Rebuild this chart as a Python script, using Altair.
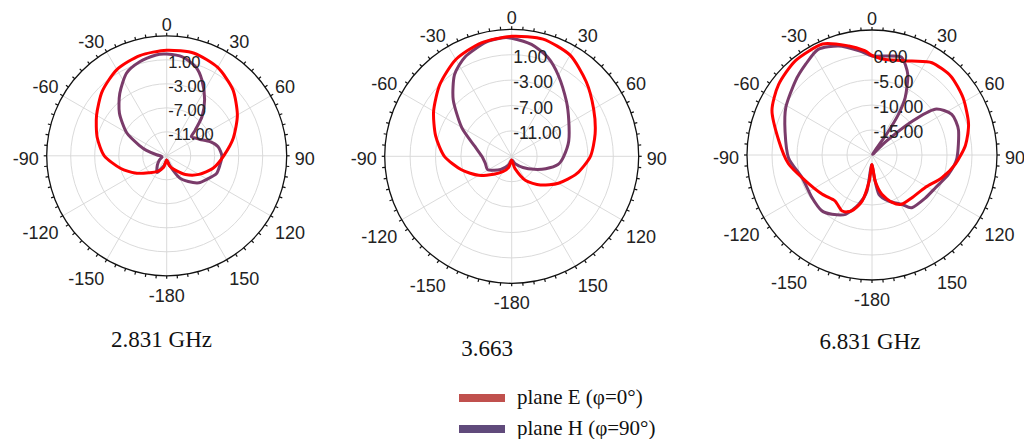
import altair as alt
import pandas as pd
import numpy as np

# ---------------- values ----------------
freq_labels = ["2.831 GHz", "3.663", "6.831 GHz"]
plane_names = ["plane E (φ=0°)", "plane H (φ=90°)"]

ring_db = [[-11, -7, -3, 1], [-11, -7, -3, 1], [-15, -10, -5, 0]]
ring_text = [["-11.00", "-7.00", "-3.00", "1.00"],
             ["-11.00", "-7.00", "-3.00", "1.00"],
             ["-15.00", "-10.00", "-5.00", "0.00"]]
db_lo = [-15, -15, -20]   # gain at the centre of each panel
db_hi = [5, 5, 5]         # gain at the outer circle

angle_ticks = [0, 30, 60, 90, 120, 150, 180, -150, -120, -90, -60, -30]
angle_tick_labels = ["0", "30", "60", "90", "120", "150", "-180",
                     "-150", "-120", "-90", "-60", "-30"]

# panel 1 : 2.831 GHz
e1_ang = [-180, -165, -150, -135, -120, -105, -90, -75, -60, -45, -30, -15,
          0, 15, 30, 45, 60, 75, 90, 105, 120, 135, 150, 165]
e1_db = [-14.3, -13.0, -12.0, -11.0, -9.2, -7.0, -4.6, -3.0, -1.5, 0.2, 1.6, 2.3,
         2.6, 2.7, 2.0, 0.6, -1.4, -3.5, -5.5, -7.0, -8.8, -10.6, -12.3, -13.3]
h1_ang = [-180, -165, -150, -135, -120, -105, -90, -84, -75, -70, -60, -48, -37,
          -26, -16, -6, 0, 9, 18, 25, 34, 42, 48, 52, 58, 64, 72, 80, 90, 100,
          110, 120, 130, 140, 150, 162]
h1_db = [-14.3, -13.3, -11.8, -12.8, -13.6, -14.2, -14.0, -13.3, -11.5, -10.3,
         -7.3, -4.4, -2.0, 0.3, 1.3, 1.9, 1.95, 1.7, 0.6, -1.1, -3.7, -6.2, -8.6,
         -9.8, -9.4, -8.8, -7.4, -6.3, -5.8, -6.0, -6.2, -7.2, -8.0, -9.4, -10.8,
         -13.2]

# panel 2 : 3.663
e2_ang = [-180, -165, -150, -135, -120, -105, -90, -75, -60, -45, -30, -15,
          0, 15, 30, 45, 60, 75, 90, 105, 120, 135, 150, 165]
e2_db = [-14.4, -13.2, -12.2, -11.0, -9.0, -6.8, -4.4, -2.6, -0.8, 1.0, 2.6, 3.5,
         3.9, 4.1, 3.4, 1.6, -0.1, -1.4, -2.6, -4.4, -6.5, -8.6, -10.6, -13.0]
h2_ang = [-180, -160, -140, -120, -105, -90, -75, -60, -46, -35, -25, -13, -5,
          0, 10, 20, 30, 45, 58, 75, 90, 100, 110, 120, 135, 155]
h2_db = [-14.4, -13.5, -12.3, -10.7, -10.7, -10.3, -9.0, -5.9, -2.2, 0.7, 2.3,
         3.4, 3.7, 3.6, 2.9, 1.6, -0.3, -2.8, -4.4, -5.7, -6.8, -7.6, -9.3, -10.9,
         -12.5, -13.7]

# panel 3 : 6.831 GHz
e3_ang = [-180, -174, -168, -160, -152, -141, -128, -111, -96, -81, -66, -53,
          -39, -24, -12, -4, 0, 8, 23, 33, 45, 58, 72, 84, 96, 108, 121, 137,
          149, 157, 166, 173]
e3_db = [-18.1, -14.8, -10.6, -8.1, -7.3, -8.2, -7.3, -5.7, -3.2, -1.1, 1.9, 3.4,
         4.3, 4.3, 2.3, 0.9, -0.1, -0.7, 0.4, 2.0, 2.3, 1.5, 0.3, -1.2, -3.2,
         -5.3, -7.5, -8.3, -8.5, -9.7, -11.9, -14.7]
h3_ang = [-180, -174, -172, -165, -156, -146, -138, -125, -108, -92, -75, -61,
          -46, -36, -27, -17, -7, 0, 10, 17, 24, 30, 33, 35, 40, 46, 50, 54, 63,
          74, 92, 104, 117, 129, 143, 149, 160, 170, 174]
h3_db = [-18.0, -16.8, -12.7, -9.8, -7.0, -5.7, -5.0, -5.3, -5.3, -3.3, -2.0,
         -0.3, 1.3, 2.5, 3.7, 2.8, 1.0, -0.2, 0.1, 0.4, -2.4, -6.7, -10.3, -15.0,
         -19.8, -16.0, -9.5, -4.4, -2.1, -2.0, -3.0, -4.2, -5.7, -6.3, -6.8,
         -8.5, -10.2, -12.0, -15.4]

curves = [
    (0, plane_names[0], e1_ang, e1_db), (0, plane_names[1], h1_ang, h1_db),
    (1, plane_names[0], e2_ang, e2_db), (1, plane_names[1], h2_ang, h2_db),
    (2, plane_names[0], e3_ang, e3_db), (2, plane_names[1], h3_ang, h3_db),
]

# ---------------- layout ----------------
W, H = 1016, 431
cx = [166.7, 511.7, 872.0]
cy = [155.8, 156.3, 155.0]
R = [120, 127, 125]
title_x = [161.5, 487.0, 870.0]
title_y = [340.0, 348.5, 342.0]
line_colors = {plane_names[0]: "#ff0000", plane_names[1]: "#7a3b6a"}
swatch_colors = ["#c0504d", "#604a7b"]


def radius(p, db):
    r = (np.asarray(db, float) - db_lo[p]) / (db_hi[p] - db_lo[p]) * R[p]
    return np.clip(r, 0, None)


rows = []
for p, plane, ang, db in curves:
    a = np.radians(ang)
    r = radius(p, db)
    for i in range(len(ang)):
        rows.append({"x": cx[p] + r[i] * np.sin(a[i]), "y": cy[p] - r[i] * np.cos(a[i]),
                     "order": i, "curve": f"{p}-{plane}", "plane": plane})
curve_df = pd.DataFrame(rows)

ring_rows, spoke_rows, tick_rows, alab_rows, rlab_rows = [], [], [], [], []
for p in range(3):
    for v, t in zip(ring_db[p], ring_text[p]):
        r = float(radius(p, [v])[0])
        ring_rows.append({"x": cx[p], "y": cy[p], "s": (2 * r) ** 2, "outer": 0})
        rlab_rows.append({"x": cx[p] + 1.5, "y": cy[p] - r + 3, "t": t,
                          "fs": 16.5 if p == 0 else 17.5})
    ring_rows.append({"x": cx[p], "y": cy[p], "s": (2 * R[p]) ** 2, "outer": 1})
    for th in angle_ticks:
        a = np.radians(th)
        spoke_rows.append({"x": cx[p], "y": cy[p],
                           "x2": cx[p] + R[p] * np.sin(a), "y2": cy[p] - R[p] * np.cos(a)})
    for th in range(0, 360, 5):
        a = np.radians(th)
        tick_rows.append({"x": cx[p] + R[p] * np.sin(a), "y": cy[p] - R[p] * np.cos(a),
                          "x2": cx[p] + (R[p] + 3) * np.sin(a),
                          "y2": cy[p] - (R[p] + 3) * np.cos(a)})
    for th, lab in zip(angle_ticks, angle_tick_labels):
        a = np.radians(th)
        s, c = np.sin(a), np.cos(a)
        align = "left" if s > 0.3 else ("right" if s < -0.3 else "center")
        base = "alphabetic" if c > 0.3 else ("top" if c < -0.3 else "middle")
        dy = {"alphabetic": 0, "middle": 4, "top": 7}[base]
        ra = R[p] + (8 if base == "middle" else 5)
        alab_rows.append({"x": cx[p] + ra * s, "y": cy[p] - ra * c + dy, "t": lab,
                          "al": align, "bl": base})

ring_df = pd.DataFrame(ring_rows)
spoke_df = pd.DataFrame(spoke_rows)
tick_df = pd.DataFrame(tick_rows)
alab_df = pd.DataFrame(alab_rows)
rlab_df = pd.DataFrame(rlab_rows)
title_df = pd.DataFrame({"x": title_x, "y": title_y, "t": freq_labels})
legend_df = pd.DataFrame({"x": [459, 459], "x2": [505, 505], "y": [398, 429],
                          "tx": [517, 517], "plane": plane_names})

X = alt.X("x:Q", scale=alt.Scale(domain=[8, 8 + W], nice=False, zero=False), axis=None)
Y = alt.Y("y:Q", scale=alt.Scale(domain=[8, 8 + H], nice=False, zero=False, reverse=True),
          axis=None)

rings = alt.Chart(ring_df).transform_filter("datum.outer == 0").mark_point(
    shape="circle", filled=False, opacity=1, strokeWidth=0.9, color="#d6d6d6"
).encode(x=X, y=Y, size=alt.Size("s:Q", scale=None, legend=None))
outer = alt.Chart(ring_df).transform_filter("datum.outer == 1").mark_point(
    shape="circle", filled=False, opacity=1, strokeWidth=1.3, color="#111111"
).encode(x=X, y=Y, size=alt.Size("s:Q", scale=None, legend=None))
spokes = alt.Chart(spoke_df).mark_rule(color="#d6d6d6", strokeWidth=0.9).encode(
    x=X, y=Y, x2="x2:Q", y2="y2:Q")
ticks = alt.Chart(tick_df).mark_rule(color="#111111", strokeWidth=1.2).encode(
    x=X, y=Y, x2="x2:Q", y2="y2:Q")

h_lines = alt.Chart(curve_df).transform_filter(
    alt.datum.plane == plane_names[1]).mark_line(
    interpolate="cardinal-closed", tension=0.3, strokeWidth=3,
    color=line_colors[plane_names[1]], strokeJoin="round"
).encode(x=X, y=Y, order="order:Q", detail="curve:N")
e_lines = alt.Chart(curve_df).transform_filter(
    alt.datum.plane == plane_names[0]).mark_line(
    interpolate="cardinal-closed", tension=0.3, strokeWidth=3,
    color=line_colors[plane_names[0]], strokeJoin="round"
).encode(x=X, y=Y, order="order:Q", detail="curve:N")

alab_layers = []
for al in ["left", "center", "right"]:
    for bl in ["top", "middle", "alphabetic"]:
        sub = alab_df[(alab_df.al == al) & (alab_df.bl == bl)]
        if len(sub) == 0:
            continue
        alab_layers.append(alt.Chart(sub).mark_text(
            align=al, baseline=bl, font="Liberation Sans", fontSize=18, color="#222222"
        ).encode(x=X, y=Y, text="t:N"))

rlab = []
for fs in sorted(set(rlab_df.fs)):
    rlab.append(alt.Chart(rlab_df[rlab_df.fs == fs]).mark_text(
        align="left", baseline="middle", font="Liberation Sans", fontSize=fs,
        color="#222222").encode(x=X, y=Y, text="t:N"))

titles = alt.Chart(title_df).mark_text(
    align="center", baseline="middle", font="Liberation Serif", fontSize=23,
    color="#111111").encode(x=X, y=Y, text="t:N")

swatches = alt.Chart(legend_df).mark_rule(strokeWidth=8).encode(
    x=X, y=Y, x2="x2:Q",
    color=alt.Color("plane:N", scale=alt.Scale(domain=plane_names, range=swatch_colors),
                    legend=None))
leg_text = alt.Chart(legend_df).mark_text(
    align="left", baseline="middle", font="Liberation Serif", fontSize=21,
    color="#111111").encode(x=alt.X("tx:Q", scale=alt.Scale(domain=[8, 8 + W], nice=False,
                                                          zero=False), axis=None),
                            y=Y, text="plane:N")

chart = alt.layer(
    rings, spokes, outer, ticks, h_lines, e_lines, *alab_layers, *rlab, titles,
    swatches, leg_text
).properties(
    width=W, height=H, padding=0, autosize=alt.AutoSizeParams(type="none"),
    background="white"
).configure_view(stroke=None)

chart.save("out.html", embed_options={"renderer": "svg", "actions": False})
